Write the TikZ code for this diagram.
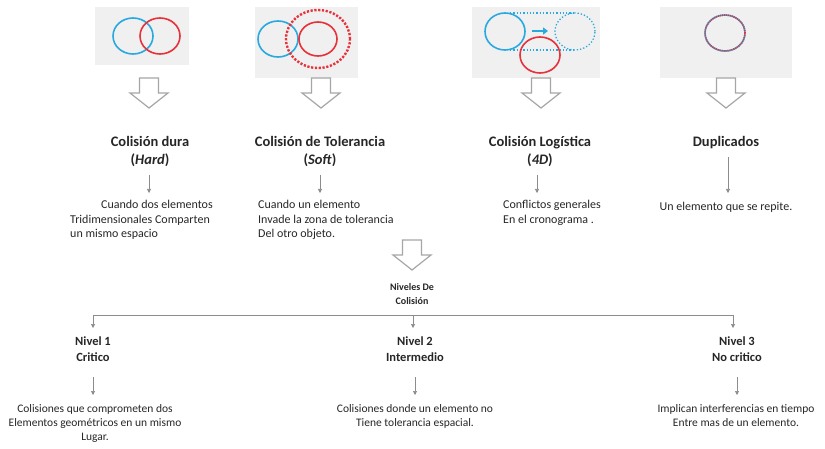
\documentclass[tikz,border=0pt]{standalone}
\usepackage{fontspec}
\setmainfont{Carlito}
\usetikzlibrary{arrows.meta}
\definecolor{cblue}{HTML}{2AA9E0}
\definecolor{cred}{HTML}{E5323B}
\definecolor{panel}{HTML}{F0F0F0}
\definecolor{txt}{HTML}{262626}
\definecolor{arrg}{HTML}{8C8C8C}
\definecolor{holl}{HTML}{A6A6A6}
\newcommand\hollowarrow[2]{\draw[hollow] (#1-9.5,#2) -- (#1+9.5,#2) -- (#1+9.5,#2+15) -- (#1+19,#2+15) -- (#1,#2+30) -- (#1-19,#2+15) -- (#1-9.5,#2+15) -- cycle;}
\begin{document}
\begin{tikzpicture}[x=1pt,y=-1pt,
 panelbox/.style={fill=panel,draw=none},
 title/.style={font=\fontsize{14.5}{18}\selectfont\bfseries, text=txt, align=center, inner sep=0},
 desc/.style={font=\fontsize{12}{14.5}\selectfont, text=txt, align=left, inner sep=0},
 lvl/.style={font=\fontsize{12.5}{16}\selectfont\bfseries, text=txt, align=center, inner sep=0},
 lvldesc/.style={font=\fontsize{11.5}{14}\selectfont, text=txt, align=center, inner sep=0},
 arr/.style={draw=arrg, line width=0.6pt, -{Triangle[width=4pt,length=4pt]}},
 hollow/.style={draw=holl, fill=white, line width=1.2pt, line join=miter},
 blue/.style={draw=cblue, line width=1.6pt},
 red/.style={draw=cred, line width=1.6pt},
]
\useasboundingbox (0,0) rectangle (825,449);
% panels
\fill[panelbox] (95,7) rectangle (189,65);
\draw[blue] (133,36) ellipse [x radius=20pt, y radius=18pt];
\draw[red] (160,36) ellipse [x radius=20pt, y radius=18pt];

\fill[panelbox] (255,7) rectangle (358,78);
\draw[blue] (278,39) ellipse [x radius=20pt, y radius=18pt];
\draw[red] (318,39) ellipse [x radius=19pt, y radius=17pt];
\draw[draw=cred, line width=2.4pt, dash pattern=on 2.2pt off 1.6pt] (318,39) ellipse [x radius=32pt, y radius=29pt];

\fill[panelbox] (472,7) rectangle (600,78);
\draw[draw=cblue, line width=1.3pt, dotted] (510,13) -- (575,13);
\draw[draw=cblue, line width=1.3pt, dotted] (510,50) -- (575,50);
\draw[draw=cblue, line width=1.3pt, dotted] (575,31.5) ellipse [x radius=20pt, y radius=18.5pt];
\draw[blue] (505,31.5) ellipse [x radius=20pt, y radius=18.5pt];
\draw[draw=cblue, line width=2.6pt, -{Triangle[width=7pt,length=5pt]}] (532,31) -- (548,31);
\draw[red] (540,55) ellipse [x radius=20pt, y radius=18pt];

\fill[panelbox] (660,7) rectangle (792,78);
\draw[draw=cblue, line width=1.6pt] (725,33) ellipse [x radius=20pt, y radius=18pt];
\draw[draw=cred, line width=1.6pt, dash pattern=on 1pt off 1pt] (725,33) ellipse [x radius=20pt, y radius=18pt];

% hollow arrows
\hollowarrow{149}{78}
\hollowarrow{321}{78}
\hollowarrow{541}{78}
\hollowarrow{726}{78}
\hollowarrow{412}{240}

% titles
\node[title] (t1) at (150,152) {Colisión dura\\(\textit{Hard})};
\node[title] (t2) at (320,152) {Colisión de Tolerancia\\(\textit{Soft})};
\node[title] (t3) at (540,152) {Colisión Logística\\(\textit{4D})};
\node[title] (t4) at (726,143) {Duplicados};

% descriptions
\node[desc, anchor=north west] (d1) at (70,200) {\hspace*{31pt}Cuando dos elementos\\Tridimensionales Comparten\\un mismo espacio};
\node[desc, anchor=north west] (d2) at (258,200) {Cuando un elemento\\Invade la zona de tolerancia\\Del otro objeto.};
\node[desc, anchor=north west] (d3) at (503,200) {Conflictos generales\\En el cronograma .};
\node[desc, anchor=north] (d4) at (726,202) {Un elemento que se repite.};

\coordinate (a1s) at (149,175); \coordinate (a1e) at (149,193);
\coordinate (a2s) at (320,175); \coordinate (a2e) at (320,193);
\coordinate (a3s) at (537,175); \coordinate (a3e) at (537,193);
\coordinate (a4s) at (728,157); \coordinate (a4e) at (728,193);
\draw[arr] (a1s) -- (a1e);
\draw[arr] (a2s) -- (a2e);
\draw[arr] (a3s) -- (a3e);
\draw[arr] (a4s) -- (a4e);

% niveles
\node[font=\fontsize{10}{13.5}\selectfont\bfseries, text=txt, align=center, inner sep=0] (nv) at (412,294) {Niveles De\\Colisión};
\coordinate (hl) at (93,315); \coordinate (hm) at (413,315); \coordinate (hr) at (733,315);
\draw[draw=arrg, line width=0.8pt] (hl) -- (hr);

\node[lvl] (l1) at (93,349) {Nivel 1\\Critico};
\node[lvl] (l2) at (415,349) {Nivel 2\\Intermedio};
\node[lvl] (l3) at (737,349) {Nivel 3\\No critico};

\draw[arr] (hl) -- (93,328);
\draw[arr] (hm) -- (413,328);
\draw[arr] (hr) -- (733,328);

\coordinate (b1s) at (93,377); \coordinate (b1e) at (93,395);
\coordinate (b2s) at (415,377); \coordinate (b2e) at (415,395);
\coordinate (b3s) at (737,377); \coordinate (b3e) at (737,395);
\draw[arr] (b1s) -- (b1e);
\draw[arr] (b2s) -- (b2e);
\draw[arr] (b3s) -- (b3e);

\node[lvldesc] (e1) at (95,423) {Colisiones que comprometen dos\\Elementos geométricos en un mismo\\Lugar.};
\node[lvldesc] (e2) at (415,416) {Colisiones donde un elemento no\\Tiene tolerancia espacial.};
\node[lvldesc] (e3) at (736,416) {Implican interferencias en tiempo\\Entre mas de un elemento.};
\end{tikzpicture}
\end{document}
